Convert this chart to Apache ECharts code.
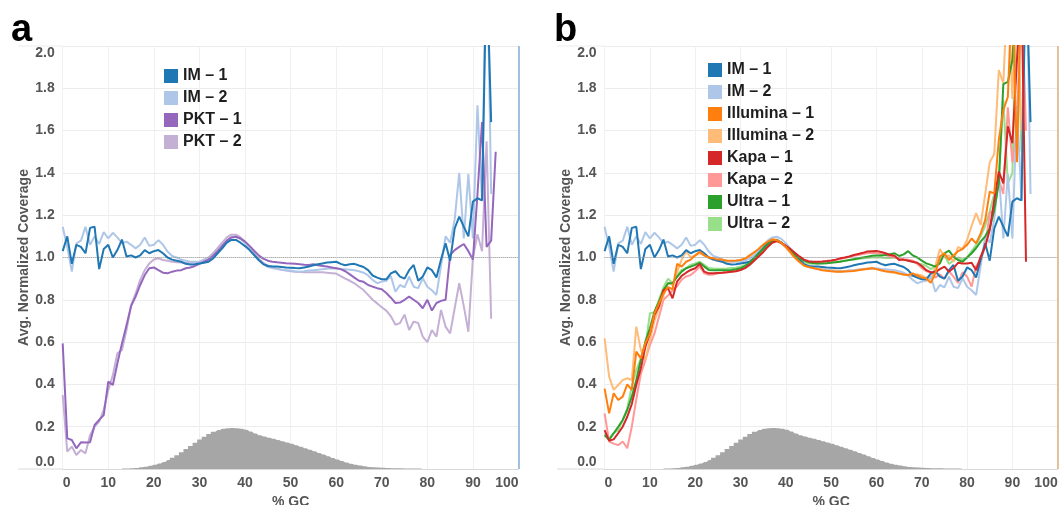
<!DOCTYPE html>
<html>
<head>
<meta charset="utf-8">
<title>GC bias coverage</title>
<script src="https://cdn.jsdelivr.net/npm/echarts@6/dist/echarts.min.js"></script>
<style>
    html, body { margin: 0; padding: 0; background: #fff; }
    #chart { width: 1059px; height: 505px; }
</style>
</head>
<body>
<div id="chart"></div>
<script>
// x axis: % GC, y axis: avg. normalized coverage
const gcRange = [0, 100, 10];
const covRange = [0, 2, 0.2];

// gray GC-content histogram, one value per %GC starting at histStart
const histStart = 13;
const histValues = [0.002, 0.002, 0.003, 0.005, 0.008, 0.011, 0.015, 0.02, 0.026, 0.033,
    0.042, 0.053, 0.065, 0.079, 0.094, 0.109, 0.124, 0.139, 0.153, 0.166,
    0.176, 0.184, 0.19, 0.193, 0.194, 0.193, 0.19, 0.185, 0.177, 0.168,
    0.16, 0.154, 0.148, 0.143, 0.137, 0.131, 0.125, 0.119, 0.112, 0.105,
    0.098, 0.091, 0.084, 0.076, 0.068, 0.06, 0.052, 0.045, 0.038, 0.031,
    0.025, 0.02, 0.016, 0.013, 0.01, 0.008, 0.007, 0.006, 0.005, 0.004,
    0.003, 0.003, 0.002, 0.002, 0.002, 0.002, 0.002];

// coverage per %GC (index = %GC)
const im1 = [1.03, 1.10, 0.97, 1.06, 1.05, 1.02, 1.14, 1.145, 0.945, 1.04,
    1.06, 1.0, 1.035, 1.085, 1.005, 1.01, 1.0, 1.01, 1.035, 1.02,
    1.03, 1.035, 1.02, 1.0, 0.99, 0.985, 0.98, 0.97, 0.967, 0.968,
    0.972, 0.975, 0.98, 0.996, 1.02, 1.043, 1.07, 1.083, 1.083, 1.07,
    1.054, 1.035, 1.012, 0.988, 0.969, 0.96, 0.958, 0.957, 0.955, 0.953,
    0.952, 0.95, 0.949, 0.953, 0.957, 0.963, 0.968, 0.972, 0.976, 0.978,
    0.98, 0.97, 0.963, 0.968, 0.97, 0.962, 0.955, 0.94, 0.915, 0.905,
    0.897, 0.897, 0.925, 0.935, 0.91, 0.9, 0.94, 0.965, 0.89, 0.91,
    0.953, 0.94, 0.906, 0.99, 1.067, 0.985, 1.138, 1.193, 1.146, 1.1,
    1.264, 1.28, 1.27, 2.4, 1.64];
const im2 = [1.145, 1.05, 0.933, 1.067, 1.08, 1.145, 1.06, 1.1, 1.064, 1.12,
    1.09, 1.117, 1.095, 1.067, 1.075, 1.06, 1.043, 1.06, 1.095, 1.055,
    1.06, 1.082, 1.06, 1.028, 1.007, 1.0, 0.99, 0.985, 0.98, 0.98,
    0.98, 0.985, 0.995, 1.01, 1.03, 1.055, 1.08, 1.095, 1.098, 1.088,
    1.068, 1.042, 1.012, 0.988, 0.968, 0.955, 0.95, 0.945, 0.942, 0.94,
    0.938, 0.935, 0.933, 0.935, 0.938, 0.94, 0.942, 0.945, 0.947, 0.948,
    0.949, 0.946, 0.944, 0.942, 0.94, 0.935, 0.928, 0.915, 0.894, 0.878,
    0.886, 0.89, 0.912, 0.838, 0.87, 0.859, 0.909, 0.862, 0.855, 0.902,
    0.862, 0.845, 0.823, 0.96, 1.1, 1.07, 1.18, 1.4, 1.09, 1.395,
    1.09, 1.72, 1.27, 2.6, 1.3];
const pkt1 = [0.594, 0.145, 0.137, 0.098, 0.126, 0.125, 0.126, 0.208, 0.232, 0.255,
    0.413, 0.397, 0.5, 0.594, 0.68, 0.77, 0.815, 0.87, 0.917, 0.949,
    0.953, 0.94, 0.928, 0.925, 0.933, 0.938, 0.94, 0.949, 0.953, 0.96,
    0.97, 0.98, 0.99, 1.008, 1.03, 1.055, 1.08, 1.095, 1.098, 1.09,
    1.075, 1.055, 1.032, 1.01, 0.995, 0.985, 0.98, 0.977, 0.975, 0.973,
    0.972, 0.97, 0.968, 0.966, 0.965, 0.968, 0.963, 0.96, 0.957, 0.953,
    0.949, 0.945, 0.935, 0.92, 0.905, 0.89, 0.885, 0.87, 0.862, 0.855,
    0.85, 0.832, 0.81, 0.785, 0.787, 0.8, 0.815, 0.8, 0.785, 0.76,
    0.8, 0.749, 0.785, 0.795, 0.8, 1.012, 1.035, 1.05, 1.064, 1.03,
    0.99, 1.3, 1.64, 1.05, 1.08, 1.5];
const pkt2 = [0.35, 0.082, 0.106, 0.066, 0.09, 0.074, 0.16, 0.2, 0.224, 0.28,
    0.373, 0.444, 0.547, 0.563, 0.657, 0.775, 0.83, 0.894, 0.94, 0.972,
    0.991, 0.996, 0.988, 0.985, 0.98, 0.978, 0.976, 0.975, 0.975, 0.976,
    0.98, 0.99, 1.0, 1.02, 1.045, 1.07, 1.095, 1.108, 1.108, 1.095,
    1.075, 1.05, 1.02, 0.995, 0.975, 0.962, 0.955, 0.948, 0.942, 0.938,
    0.935, 0.933, 0.932, 0.93, 0.93, 0.93, 0.93, 0.93, 0.928, 0.926,
    0.924, 0.912, 0.9, 0.89, 0.878, 0.862, 0.846, 0.823, 0.8, 0.783,
    0.765, 0.749, 0.722, 0.682, 0.69, 0.73, 0.657, 0.697, 0.69, 0.626,
    0.6, 0.657, 0.626, 0.752, 0.673, 0.641, 0.76, 0.878, 0.77, 0.649,
    1.0, 1.11, 1.03, 1.55, 0.71];
const illumina1 = [0.38, 0.263, 0.358, 0.326, 0.342, 0.40, 0.374, 0.555, 0.523, 0.594,
    0.64, 0.736, 0.783, 0.83, 0.86, 0.85, 0.97, 0.957, 0.98, 0.99,
    1.01, 1.027, 1.01, 1.0, 0.996, 0.99, 0.99, 0.985, 0.985, 0.986,
    0.988, 0.995, 1.01, 1.025, 1.04, 1.06, 1.075, 1.085, 1.082, 1.07,
    1.05, 1.025, 1.0, 0.98, 0.962, 0.955, 0.95, 0.945, 0.94, 0.937,
    0.935, 0.933, 0.933, 0.934, 0.935, 0.936, 0.94, 0.943, 0.946, 0.949,
    0.945, 0.94, 0.935, 0.933, 0.93, 0.925, 0.92, 0.917, 0.925, 0.915,
    0.905, 0.9, 0.88, 0.925, 1.004, 1.02, 0.988, 1.01, 1.03, 1.04,
    1.06, 1.09, 1.067, 1.114, 1.177, 1.311, 1.303, 1.556, 1.697, 1.76,
    2.3, 1.45, 2.3, 2.4];
const illumina2 = [0.618, 0.437, 0.374, 0.397, 0.42, 0.429, 0.42, 0.673, 0.563, 0.515,
    0.61, 0.7, 0.76, 0.82, 0.88, 0.87, 0.93, 0.99, 1.03, 1.0,
    1.01, 1.02, 1.01, 1.0, 0.99, 0.985, 0.98, 0.98, 0.98, 0.982,
    0.985, 0.99, 1.005, 1.02, 1.04, 1.06, 1.078, 1.088, 1.085, 1.07,
    1.048, 1.022, 0.998, 0.978, 0.962, 0.955, 0.952, 0.948, 0.945, 0.942,
    0.94, 0.938, 0.936, 0.936, 0.938, 0.94, 0.943, 0.946, 0.948, 0.95,
    0.946, 0.94, 0.935, 0.93, 0.928, 0.922, 0.92, 0.915, 0.912, 0.92,
    0.915, 0.905, 0.895, 0.96, 1.04, 1.0, 1.01, 0.98, 1.05, 1.04,
    1.083, 1.15, 1.21, 1.154, 1.3, 1.45, 1.49, 1.886, 1.824, 2.3,
    1.75, 2.3, 1.6];
const kapa1 = [0.184, 0.134, 0.14, 0.169, 0.2, 0.247, 0.307, 0.397, 0.476, 0.578,
    0.64, 0.728, 0.77, 0.846, 0.854, 0.807, 0.886, 0.913, 0.928, 0.941,
    0.949, 0.969, 0.933, 0.925, 0.925, 0.927, 0.928, 0.93, 0.933, 0.935,
    0.941, 0.95, 0.965, 0.985, 1.005, 1.025, 1.05, 1.07, 1.078, 1.07,
    1.055, 1.04, 1.022, 1.005, 0.99, 0.982, 0.98, 0.98, 0.981, 0.983,
    0.986, 0.99, 0.996, 1.0, 1.005, 1.012, 1.017, 1.022, 1.028, 1.03,
    1.031, 1.026, 1.02, 1.012, 1.008, 0.988, 0.99, 0.985, 0.98, 0.975,
    0.96, 0.94, 0.93, 0.93, 0.945, 0.957, 0.933, 0.95, 0.975, 0.972,
    0.972, 0.975, 0.94, 1.004, 1.052, 1.13, 1.272, 1.406, 1.35, 1.62,
    1.54, 1.93, 2.3, 0.98];
const kapa2 = [0.263, 0.13, 0.12, 0.113, 0.13, 0.098, 0.2, 0.33, 0.45, 0.515,
    0.586, 0.64, 0.72, 0.8, 0.82, 0.845, 0.865, 0.895, 0.91, 0.917,
    0.935, 0.957, 0.925, 0.918, 0.92, 0.925, 0.928, 0.93, 0.933, 0.937,
    0.942, 0.952, 0.968, 0.988, 1.01, 1.03, 1.055, 1.072, 1.078, 1.068,
    1.05, 1.03, 1.01, 0.995, 0.985, 0.978, 0.975, 0.975, 0.977, 0.98,
    0.983, 0.988, 0.993, 0.998, 1.003, 1.008, 1.012, 1.016, 1.02, 1.022,
    1.02, 1.016, 1.01, 1.006, 1.0, 0.995, 0.99, 0.99, 0.985, 0.97,
    0.95, 0.935, 0.93, 0.905, 0.92, 0.9, 0.935, 0.91, 0.88, 0.93,
    0.91, 0.862, 0.96, 0.99, 1.05, 1.21, 1.225, 1.37, 1.3, 1.71,
    1.45, 1.6, 2.3, 1.6];
const ultra1 = [0.16, 0.137, 0.169, 0.2, 0.232, 0.279, 0.342, 0.421, 0.515, 0.602,
    0.665, 0.744, 0.791, 0.846, 0.878, 0.878, 0.909, 0.933, 0.949, 0.957,
    0.965, 0.975, 0.957, 0.941, 0.94, 0.94, 0.94, 0.94, 0.941, 0.944,
    0.949, 0.96, 0.975, 0.995, 1.018, 1.04, 1.062, 1.078, 1.08, 1.07,
    1.052, 1.033, 1.012, 0.995, 0.985, 0.978, 0.974, 0.972, 0.972, 0.973,
    0.975, 0.978, 0.98, 0.984, 0.988, 0.992, 0.996, 1.0, 1.004, 1.008,
    1.01, 1.01, 1.012, 1.015, 1.02, 1.007, 1.015, 1.03, 1.01, 1.0,
    0.985, 0.972, 0.965, 0.957, 0.972, 1.02, 1.032, 1.004, 0.988, 0.98,
    1.0, 1.02, 1.045, 1.075, 1.1, 1.138, 1.225, 1.35, 1.82, 1.83,
    1.934, 2.3, 2.2, 2.4];
const ultra2 = [0.169, 0.145, 0.17, 0.184, 0.23, 0.287, 0.39, 0.468, 0.523, 0.578,
    0.736, 0.74, 0.8, 0.86, 0.9, 0.878, 0.915, 0.941, 0.95, 0.965,
    0.972, 0.98, 0.965, 0.95, 0.948, 0.947, 0.947, 0.948, 0.95, 0.952,
    0.957, 0.965, 0.98, 1.0, 1.022, 1.045, 1.066, 1.08, 1.08, 1.068,
    1.05, 1.03, 1.008, 0.99, 0.978, 0.972, 0.97, 0.972, 0.975, 0.976,
    0.978, 0.98, 0.982, 0.985, 0.988, 0.99, 0.993, 0.996, 0.998, 1.0,
    1.0, 1.0, 0.998, 0.998, 1.0, 0.996, 0.99, 0.985, 0.98, 0.972,
    0.968, 0.96, 0.945, 0.96, 0.99, 1.01, 0.97, 0.985, 1.0, 0.99,
    1.0, 1.03, 1.06, 1.1, 1.15, 1.22, 1.3, 1.37, 1.745, 1.35,
    1.4, 2.3, 1.5];

const legendA = ['IM – 1', 'IM – 2', 'PKT – 1', 'PKT – 2'];
const legendB = ['IM – 1', 'IM – 2', 'Illumina – 1', 'Illumina – 2', 'Kapa – 1', 'Kapa – 2', 'Ultra – 1', 'Ultra – 2'];

const FONT = '"Liberation Sans", Arial, sans-serif';
const AXIS_GRAY = '#555';

function lineSeries(name, values, color, panel, z) {
    return {
        name: name,
        type: 'line',
        xAxisIndex: panel,
        yAxisIndex: panel,
        data: values.map((v, i) => [i, v]),
        symbol: 'none',
        color: color,
        lineStyle: { width: 2, color: color },
        z: z,
        silent: true
    };
}

function histSeries(panel, edgeColor) {
    return {
        type: 'line',
        xAxisIndex: panel,
        yAxisIndex: panel,
        step: 'middle',
        symbol: 'none',
        data: histValues.map((v, i) => [histStart + i, v]),
        lineStyle: { width: 0 },
        areaStyle: { color: '#a6a6a6', opacity: 1 },
        z: 1,
        silent: true,
        markLine: {
            silent: true,
            symbol: ['none', 'none'],
            label: { show: false },
            data: [
                { yAxis: 1, lineStyle: { color: '#9a9a9a', type: 'dotted', width: 1 } },
                { xAxis: 100, lineStyle: { color: edgeColor, type: 'solid', width: 1.5 } }
            ]
        }
    };
}

function xAxisCfg(gridIndex) {
    return {
        type: 'value',
        gridIndex: gridIndex,
        min: gcRange[0], max: gcRange[1], interval: gcRange[2],
        axisLine: { show: true, lineStyle: { color: '#d9d9d9' } },
        axisTick: { show: false },
        splitLine: { show: true, lineStyle: { color: '#f0f0f0' } },
        axisLabel: {
            fontSize: 14, fontWeight: 'bold', color: AXIS_GRAY, fontFamily: FONT,
            margin: 7, alignMinLabel: 'left', alignMaxLabel: 'right'
        },
        name: '% GC',
        nameLocation: 'middle',
        nameGap: 21,
        nameTextStyle: { fontSize: 14, fontWeight: 'bold', color: AXIS_GRAY, fontFamily: FONT }
    };
}

function yAxisCfg(gridIndex) {
    return {
        type: 'value',
        gridIndex: gridIndex,
        min: covRange[0], max: covRange[1], interval: covRange[2],
        axisLine: { show: false },
        axisTick: { show: false },
        splitLine: { show: true, lineStyle: { color: '#ececec' } },
        axisLabel: {
            fontSize: 14, fontWeight: 'bold', color: AXIS_GRAY, fontFamily: FONT,
            margin: 8, formatter: v => v.toFixed(1),
            verticalAlignMinLabel: 'bottom', verticalAlignMaxLabel: 'top'
        },
        name: 'Avg. Normalized Coverage',
        nameLocation: 'middle',
        nameRotate: 90,
        nameGap: 27,
        nameTextStyle: { fontSize: 14, fontWeight: 'bold', color: AXIS_GRAY, fontFamily: FONT }
    };
}

function legendCfg(items, left, top) {
    return {
        data: items,
        orient: 'vertical',
        left: left,
        top: top,
        icon: 'rect',
        itemWidth: 14,
        itemHeight: 14,
        itemGap: 6,
        selectedMode: false,
        textStyle: { fontSize: 16, fontWeight: 'bold', color: '#1e1e1e', fontFamily: FONT }
    };
}

const chart = echarts.init(document.getElementById('chart'), null, { renderer: 'canvas' });

chart.setOption({
    animation: false,
    backgroundColor: '#fff',
    title: [
        { text: 'a', left: 6, top: 7, textStyle: { fontSize: 38, fontWeight: 'bold', color: '#000', fontFamily: FONT } },
        { text: 'b', left: 549, top: 7, textStyle: { fontSize: 38, fontWeight: 'bold', color: '#000', fontFamily: FONT } }
    ],
    grid: [
        { left: 62.7, right: 540.5, top: 46, bottom: 36, outerBoundsMode: 'none' },
        { left: 604.6, right: 1.3, top: 46, bottom: 36, outerBoundsMode: 'none' }
    ],
    xAxis: [xAxisCfg(0), xAxisCfg(1)],
    yAxis: [yAxisCfg(0), yAxisCfg(1)],
    legend: [legendCfg(legendA, 159, 63), legendCfg(legendB, 703, 57)],
    graphic: [
        { type: 'line', shape: { x1: 18, y1: 46, x2: 62.7, y2: 46 }, style: { stroke: '#ececec', lineWidth: 1 } },
        { type: 'line', shape: { x1: 18, y1: 469, x2: 62.7, y2: 469 }, style: { stroke: '#d9d9d9', lineWidth: 1 } },
        { type: 'line', shape: { x1: 557, y1: 46, x2: 604.6, y2: 46 }, style: { stroke: '#ececec', lineWidth: 1 } },
        { type: 'line', shape: { x1: 557, y1: 469, x2: 604.6, y2: 469 }, style: { stroke: '#d9d9d9', lineWidth: 1 } }
    ],
    series: [
        histSeries(0, '#86acd2'),
        lineSeries('PKT – 2', pkt2, '#c5b0d5', 0, 2),
        lineSeries('IM – 2', im2, '#aec7e8', 0, 3),
        lineSeries('PKT – 1', pkt1, '#9467bd', 0, 4),
        lineSeries('IM – 1', im1, '#1f77b4', 0, 5),

        histSeries(1, '#ddb07c'),
        lineSeries('Ultra – 2', ultra2, '#98df8a', 1, 2),
        lineSeries('Kapa – 2', kapa2, '#ff9896', 1, 2),
        lineSeries('Illumina – 2', illumina2, '#ffbb78', 1, 2),
        lineSeries('IM – 2', im2, '#aec7e8', 1, 2),
        lineSeries('IM – 1', im1, '#1f77b4', 1, 3),
        lineSeries('Ultra – 1', ultra1, '#2ca02c', 1, 4),
        lineSeries('Kapa – 1', kapa1, '#d62728', 1, 5),
        lineSeries('Illumina – 1', illumina1, '#ff7f0e', 1, 6)
    ]
});
</script>
</body>
</html>
